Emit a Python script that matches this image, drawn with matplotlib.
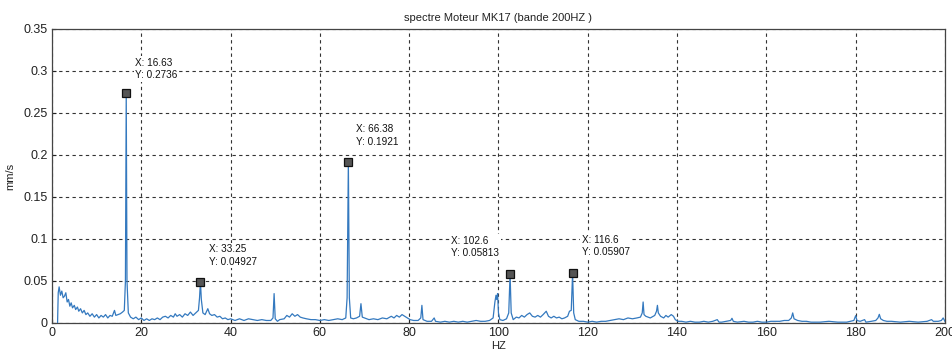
import matplotlib
matplotlib.use("Agg")
import matplotlib.pyplot as plt

# Vibration spectrum of motor MK17, 0-200 Hz band
freq_hz = [
    1.25, 1.4, 1.6, 1.9, 2.2, 2.5, 2.8, 3.1, 3.4, 3.7, 4.0, 4.3, 4.6, 5.0, 5.3, 5.7,
    6.0, 6.4, 6.8, 7.2, 7.6, 8.0, 8.5, 9.0, 9.5, 10.0, 10.5, 11.0, 11.5, 12.0, 12.5,
    13.0, 13.5, 14.0, 14.3, 14.8, 15.3, 15.8, 16.2, 16.45, 16.63, 16.8, 17.1, 17.6,
    18.2, 18.8, 19.4, 20.0, 20.6, 21.2, 21.8, 22.4, 23.0, 23.6, 24.2, 24.8, 25.4,
    26.0, 26.6, 27.2, 27.6, 28.0, 28.6, 29.2, 29.8, 30.4, 31.0, 31.6, 32.2, 32.8,
    33.05, 33.25, 33.45, 33.8, 34.3, 34.9, 35.3, 35.8, 36.4, 37.0, 37.6, 38.2, 38.8,
    39.4, 40.0, 41.0, 42.0, 43.0, 44.0, 45.0, 46.0, 47.0, 48.0, 49.0, 49.5, 49.75,
    50.0, 50.5, 51.0, 52.0, 52.6, 53.2, 53.8, 54.4, 55.0, 55.6, 56.2, 57.0, 58.0,
    59.0, 60.0, 61.0, 62.0, 63.0, 64.0, 65.0, 65.8, 66.1, 66.38, 66.6, 66.9, 67.5,
    68.2, 68.9, 69.2, 69.5, 70.0, 71.0, 72.0, 73.0, 74.0, 75.0, 76.0, 76.6, 77.2,
    77.8, 78.4, 79.0, 79.6, 80.2, 81.0, 82.0, 82.6, 82.85, 83.1, 84.0, 85.0, 85.6,
    85.9, 87.0, 88.0, 89.0, 90.0, 91.0, 92.0, 93.0, 94.0, 95.0, 96.0, 97.0, 98.0,
    98.8, 99.2, 99.45, 99.6, 99.8, 100.0, 100.3, 101.0, 101.8, 102.3, 102.6, 102.85,
    103.3, 104.0, 104.6, 105.2, 105.8, 106.4, 107.0, 107.6, 108.2, 108.8, 109.4,
    110.0, 110.7, 111.2, 111.8, 112.4, 113.0, 113.6, 114.2, 114.8, 115.5, 115.9,
    116.3, 116.6, 116.85, 117.2, 118.0, 119.0, 120.0, 121.0, 122.0, 123.0, 124.0,
    125.0, 126.0, 127.0, 128.0, 129.0, 130.0, 131.0, 131.8, 132.2, 132.4, 132.6,
    133.0, 134.0, 135.0, 135.4, 135.6, 135.8, 136.3, 137.0, 137.5, 138.0, 138.7,
    139.2, 139.6, 140.2, 141.0, 142.0, 143.0, 144.0, 145.0, 146.0, 147.0, 148.0,
    149.0, 149.4, 150.0, 151.0, 152.0, 152.3, 152.6, 153.5, 155.0, 156.0, 157.0,
    158.0, 159.0, 160.0, 161.0, 162.0, 163.0, 164.0, 165.0, 165.6, 165.9, 166.2,
    167.0, 168.0, 169.0, 170.0, 172.0, 174.0, 176.0, 178.0, 179.6, 180.0, 180.3,
    181.0, 182.0, 182.3, 183.5, 184.5, 185.0, 185.3, 185.6, 186.2, 187.0, 188.0,
    190.0, 192.0, 194.0, 196.0, 197.0, 197.4, 198.5, 199.2, 199.6, 200.0,
]
amp_mm_s = [
    0.000, 0.036, 0.043, 0.033, 0.038, 0.030, 0.032, 0.036, 0.025, 0.028, 0.020, 0.024,
    0.018, 0.021, 0.016, 0.019, 0.014, 0.017, 0.012, 0.015, 0.010, 0.012, 0.008, 0.011,
    0.007, 0.010, 0.006, 0.009, 0.007, 0.010, 0.006, 0.009, 0.008, 0.015, 0.009, 0.010,
    0.011, 0.013, 0.015, 0.050, 0.2736, 0.050, 0.012, 0.007, 0.005, 0.007, 0.004, 0.006,
    0.003, 0.005, 0.003, 0.005, 0.004, 0.006, 0.004, 0.007, 0.008, 0.006, 0.009, 0.007,
    0.011, 0.008, 0.010, 0.007, 0.011, 0.009, 0.013, 0.009, 0.012, 0.015, 0.030, 0.04927,
    0.028, 0.012, 0.010, 0.017, 0.011, 0.009, 0.010, 0.007, 0.008, 0.005, 0.006, 0.004,
    0.005, 0.003, 0.005, 0.003, 0.005, 0.004, 0.003, 0.004, 0.003, 0.003, 0.006, 0.035,
    0.005, 0.002, 0.004, 0.005, 0.009, 0.007, 0.011, 0.008, 0.010, 0.007, 0.006, 0.005,
    0.004, 0.004, 0.003, 0.004, 0.003, 0.004, 0.005, 0.004, 0.006, 0.030, 0.1921, 0.030,
    0.006, 0.005, 0.006, 0.008, 0.023, 0.007, 0.006, 0.004, 0.005, 0.004, 0.006, 0.005,
    0.008, 0.006, 0.009, 0.007, 0.010, 0.008, 0.006, 0.004, 0.003, 0.003, 0.006, 0.021,
    0.004, 0.002, 0.002, 0.006, 0.002, 0.001, 0.002, 0.001, 0.002, 0.001, 0.002, 0.001,
    0.002, 0.003, 0.002, 0.002, 0.003, 0.006, 0.025, 0.033, 0.028, 0.035, 0.012, 0.004,
    0.003, 0.005, 0.012, 0.05813, 0.012, 0.004, 0.007, 0.006, 0.009, 0.007, 0.010, 0.012,
    0.008, 0.007, 0.009, 0.007, 0.010, 0.014, 0.008, 0.006, 0.008, 0.006, 0.007, 0.005,
    0.006, 0.008, 0.014, 0.015, 0.05907, 0.012, 0.004, 0.002, 0.002, 0.001, 0.002, 0.001,
    0.002, 0.002, 0.003, 0.004, 0.005, 0.004, 0.006, 0.005, 0.006, 0.007, 0.012, 0.025,
    0.010, 0.008, 0.006, 0.009, 0.014, 0.021, 0.012, 0.008, 0.006, 0.009, 0.007, 0.010,
    0.008, 0.004, 0.002, 0.002, 0.001, 0.002, 0.001, 0.001, 0.002, 0.001, 0.002, 0.004,
    0.001, 0.001, 0.002, 0.003, 0.0056, 0.002, 0.001, 0.002, 0.001, 0.001, 0.002, 0.001,
    0.001, 0.002, 0.002, 0.002, 0.003, 0.003, 0.006, 0.012, 0.005, 0.003, 0.002, 0.002,
    0.001, 0.001, 0.002, 0.001, 0.001, 0.003, 0.0087, 0.003, 0.002, 0.004, 0.001, 0.002,
    0.003, 0.006, 0.0103, 0.005, 0.003, 0.002, 0.002, 0.001, 0.002, 0.001, 0.002, 0.004,
    0.002, 0.002, 0.003, 0.006, 0.002,
]

# Data tips placed on the main peaks
tip_x = [16.63, 33.25, 66.38, 102.6, 116.6]
tip_y = [0.2736, 0.04927, 0.1921, 0.05813, 0.05907]
tip_text = ["X: 16.63\nY: 0.2736", "X: 33.25\nY: 0.04927", "X: 66.38\nY: 0.1921",
            "X: 102.6\nY: 0.05813", "X: 116.6\nY: 0.05907"]
tip_offset_px = [(9, 13), (9, 15), (8, 15), (-59, 16), (9, 16)]

x_ticks = [0, 20, 40, 60, 80, 100, 120, 140, 160, 180, 200]
y_ticks = [0, 0.05, 0.1, 0.15, 0.2, 0.25, 0.3, 0.35]
y_tick_labels = ["0", "0.05", "0.1", "0.15", "0.2", "0.25", "0.3", "0.35"]

plt.rcParams["font.family"] = ["Liberation Sans", "DejaVu Sans"]

fig = plt.figure(figsize=(9.52, 3.53), dpi=100)
ax = fig.add_axes([0.0546, 0.085, 0.938, 0.833])

ax.plot(freq_hz, amp_mm_s, color="#3479bf", linewidth=0.9, zorder=3)
ax.plot(tip_x, tip_y, linestyle="none", marker="s", markersize=5.5,
        markerfacecolor="#555555", markeredgecolor="#111111", markeredgewidth=0.9, zorder=4)

for x, y, txt, off in zip(tip_x, tip_y, tip_text, tip_offset_px):
    ax.annotate(txt, xy=(x, y), xytext=off, textcoords="offset pixels",
                fontsize=7.2, color="#111111", ha="left", va="bottom", linespacing=1.3,
                bbox=dict(boxstyle="square,pad=0.15", facecolor="white", edgecolor="none"),
                zorder=5)

ax.set_xlim(0, 200)
ax.set_ylim(0, 0.35)
ax.set_xticks(x_ticks)
ax.set_xticklabels([str(t) for t in x_ticks])
ax.set_yticks(y_ticks)
ax.set_yticklabels(y_tick_labels)

ax.grid(True, color="#333333", linestyle=(0, (3, 3)), linewidth=0.8)
ax.set_axisbelow(True)
ax.tick_params(direction="in", length=3, labelsize=9, colors="#222222", pad=3)
for s in ax.spines.values():
    s.set_color("#444444")
    s.set_linewidth(0.9)

ax.set_title("spectre Moteur MK17 (bande 200HZ )", fontsize=8, pad=6, color="#222222")
ax.set_xlabel("HZ", fontsize=8, labelpad=1, color="#222222")
ax.set_ylabel("mm/s", fontsize=8, labelpad=6, color="#222222")

fig.savefig("out.png", dpi=100, facecolor="white")
